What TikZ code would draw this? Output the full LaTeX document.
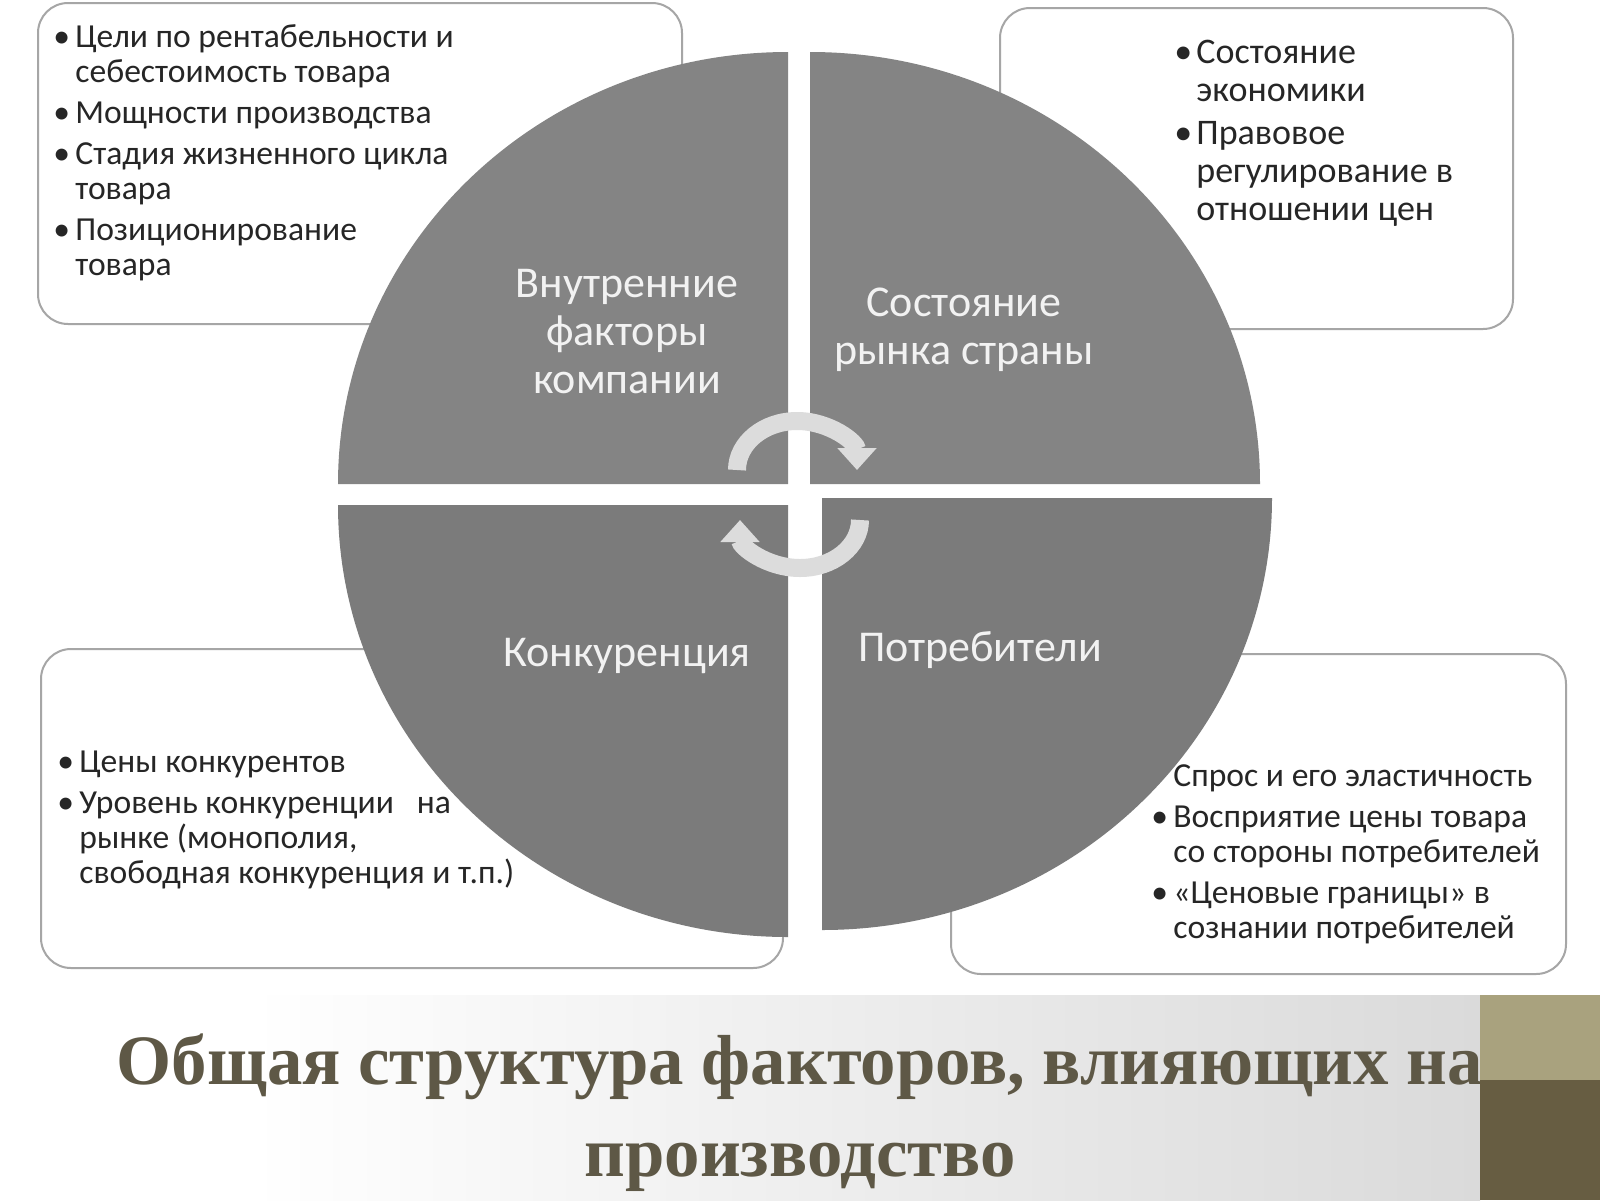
\documentclass[tikz,border=0pt]{standalone}
\usepackage{fontspec}
\setmainfont{Carlito}
\newfontfamily\titlefont{Liberation Serif}
\usetikzlibrary{arrows.meta}
\definecolor{QuadTop}{HTML}{848484}
\definecolor{QuadBottom}{HTML}{7B7B7B}
\definecolor{ArrowGray}{HTML}{DCDCDC}
\definecolor{BoxLine}{HTML}{A6A6A6}
\definecolor{LabelWhite}{HTML}{F2F2F2}
\definecolor{TitleOlive}{HTML}{5E5846}
\definecolor{BandGray}{HTML}{DADADA}
\definecolor{LightKhaki}{HTML}{A9A27E}
\definecolor{DarkKhaki}{HTML}{675D42}
\newcommand{\bitem}[2][\textbullet]{\hangindent=9.5pt\hangafter=1\noindent\makebox[9.5pt][l]{\hspace{-1.5pt}#1}#2\par}
\tikzset{
  InfoBox/.style={draw=BoxLine, line width=1pt, fill=white, rounded corners=15pt, inner sep=0pt},
  InfoText/.style={anchor=north west, inner sep=0pt, text width=280pt, align=flush left, text=black!85,
    font={\fontsize{16.8}{17.5}\selectfont\setlength{\parskip}{3pt}}},
  QuadLabel/.style={align=center, inner sep=0pt, text=LabelWhite, font={\fontsize{22}{24}\selectfont}},
  CycleArrow/.style={ArrowGray, line width=9pt, -{Triangle[width=19pt,length=11pt]}},
  TitleText/.style={align=center, inner sep=0pt, text=TitleOlive,
    font={\titlefont\bfseries\fontsize{35.4}{46}\selectfont}}
}
\begin{document}
\begin{tikzpicture}[x=0.5pt, y=-0.5pt]
  \useasboundingbox (0,0) rectangle (1600,1200);
  \fill[white] (0,0) rectangle (1600,1200);

  % bottom band with title
  \shade[left color=white, right color=BandGray] (250,995) rectangle (1480,1200);
  \node[TitleText, anchor=north] (Title) at (800,1033)
    {Общая структура факторов, влияющих на\\производство};
  \fill[LightKhaki] (1480,995) rectangle (1600,1080);
  \fill[DarkKhaki] (1480,1080) rectangle (1600,1200);

  % boxes behind the circle
  \node[InfoBox, minimum width=322pt, minimum height=160.5pt] (BoxInternal) at (360,163.5) {};
  \node[InfoBox, minimum width=256.5pt, minimum height=160.5pt] (BoxMarket) at (1256.5,168.5) {};
  \node[InfoBox, minimum width=371pt, minimum height=159.5pt] (BoxCompet) at (412,808.5) {};
  \node[InfoBox, minimum width=307.5pt, minimum height=160pt] (BoxConsumer) at (1258.5,814) {};

  \node[InfoText] (TxtInternal) at (56,24)
    {\bitem{Цели по рентабельности и\newline себестоимость товара}%
     \bitem{Мощности производства}%
     \bitem{Стадия жизненного цикла\newline товара}%
     \bitem{Позиционирование\newline товара}};
  \node[InfoText, font={\fontsize{18}{19}\selectfont\setlength{\parskip}{2.5pt}}] (TxtMarket) at (1177,40)
    {\bitem{Состояние\newline экономики}%
     \bitem{Правовое\newline регулирование в\newline отношении цен}};
  \node[InfoText] (TxtCompet) at (60,751)
    {\bitem{Цены конкурентов}%
     \bitem{Уровень конкуренции\ \ \ на\newline рынке (монополия,\newline свободная конкуренция и т.п.)}};
  \node[InfoText] (TxtConsumer) at (1154,764)
    {\bitem[]{Спрос и его эластичность}%
     \bitem{Восприятие цены товара\newline со стороны потребителей}%
     \bitem{«Ценовые границы» в\newline сознании потребителей}};

  % four quarters of the circle
  \foreach \cx/\cy/\sa/\ea/\col in {788/484/180/90/QuadTop, 810/484/90/0/QuadTop,
                                    788/505/180/270/QuadBottom, 822/498/0/-90/QuadBottom}{%
    \fill[\col] (\cx,\cy) -- ++(\sa:225pt and 216pt)
      arc[start angle=\sa, end angle=\ea, x radius=225pt, y radius=216pt] -- cycle;
  }

  \node[QuadLabel] (LabInternal) at (627,332) {Внутренние\\факторы\\компании};
  \node[QuadLabel] (LabMarket) at (964,330) {Состояние\\рынка страны};
  \node[QuadLabel] (LabCompet) at (627,656) {Конкуренция};
  \node[QuadLabel] (LabConsumer) at (980,650) {Потребители};

  % cycle arrows
  \coordinate (UpStart) at (737,470);
  \coordinate (LowStart) at (860,520);
  \draw[CycleArrow] (UpStart) arc[start angle=180, end angle=0, x radius=30pt, y radius=24.5pt];
  \draw[CycleArrow] (LowStart) arc[start angle=0, end angle=-180, x radius=30pt, y radius=24pt];
\end{tikzpicture}
\end{document}
